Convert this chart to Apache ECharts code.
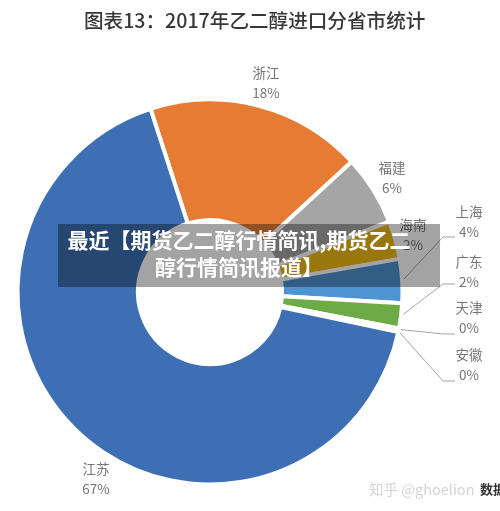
<!DOCTYPE html>
<html><head><meta charset="utf-8">
<style>html,body{margin:0;padding:0;background:#fff}#c{width:500px;height:511px;filter:blur(0.45px)}</style>
<script src="https://cdn.jsdelivr.net/npm/echarts@6/dist/echarts.min.js"></script>
</head><body><div id="c"></div>
<script>
const categories = ['浙江','福建','海南','上海','广东','天津','安徽','江苏'];
const values = [18.2,5.9,3.2,3.7,2.1,0.15,0.15,66.8];
const percentLabels = ['18%','6%','2%','4%','2%','0%','0%','67%'];
const colors = ['#E67C33','#A5A5A5','#EFBA14','#4F94D2','#6CAB45','#4472C4','#8FAADC','#3E6FB4'];
const title = '图表13：2017年乙二醇进口分省市统计';
const overlayTitle = '最近【期货乙二醇行情简讯,期货乙二\n醇行情简讯报道】';

const labelSpots = [[266,83],[392,178],[413,235],[469,222],[469,272],[469,318],[469,365],[96,479]];
const lineEnds = {3:[455,237],4:[455,284],5:[455,334],6:[455,381]};
const font = '"Noto Sans CJK SC","Noto Sans",sans-serif';
const center = [210,292], radius = [72,192.5];
const chart = echarts.init(document.getElementById('c'), null, {renderer:'canvas'});
chart.setOption({
  animation:false,
  backgroundColor:'#fff',
  title:{text:title,left:79,top:6,textStyle:{fontFamily:font,fontSize:19.6,fontWeight:500,color:'#383838'}},
  series:[{
    type:'pie',
    center:center,
    radius:radius,
    startAngle:108,
    avoidLabelOverlap:false,
    silent:true,
    itemStyle:{borderColor:'#fff',borderWidth:4},
    label:{show:true,position:'outside',fontFamily:font,fontSize:13.5,lineHeight:20,color:'#767676',align:'center',verticalAlign:'middle'},
    labelLine:{show:false},
    labelLayout:function(p){
      const s = labelSpots[p.dataIndex];
      return {x:s[0],y:s[1],align:'center',verticalAlign:'middle'};
    },
    data:categories.map((n,i)=>({
      name:n,value:values[i],
      itemStyle:{color:colors[i]},
      label:{formatter:n+'\n'+percentLabels[i]}
    }))
  },{
    type:'pie',
    center:center,
    radius:radius,
    startAngle:108,
    avoidLabelOverlap:false,
    silent:true,
    itemStyle:{color:'rgba(0,0,0,0)'},
    label:{show:false,position:'outside',formatter:'\u00a0',fontSize:1,padding:0},
    labelLine:{show:false,length:10,length2:12,lineStyle:{color:'#A6A6A6',width:1}},
    labelLayout:function(p){
      const s = lineEnds[p.dataIndex];
      return s ? {x:s[0],y:s[1],align:'left',verticalAlign:'middle'} : {};
    },
    data:categories.map((n,i)=>({
      name:n,value:values[i],
      label:{show:!!lineEnds[i]},
      labelLine:{show:!!lineEnds[i]}
    }))
  }],
  graphic:[
    {type:'rect',z:100,shape:{x:58,y:224,width:382,height:63},style:{fill:'rgba(0,0,0,0.36)'}},
    {type:'text',z:101,x:239,y:253.5,style:{text:overlayTitle,fill:'#fff',align:'center',verticalAlign:'middle',fontFamily:font,fontSize:21,fontWeight:'bold',lineHeight:27}},
    {type:'text',z:50,x:369,y:489,style:{text:'知乎 @ghoelion',fill:'#D4D4D4',fontFamily:font,fontSize:14.5,verticalAlign:'middle'}},
    {type:'text',z:51,x:480,y:489,style:{text:'数据',fill:'#333',fontFamily:font,fontSize:13,fontWeight:'bold',verticalAlign:'middle'}}
  ]
});
</script></body></html>
